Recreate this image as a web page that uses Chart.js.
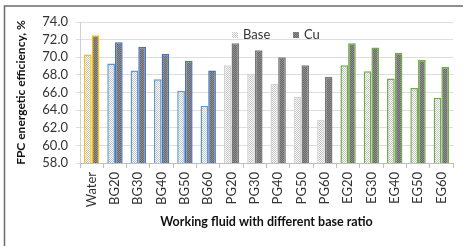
<!DOCTYPE html>
<html>
<head>
<meta charset="utf-8">
<script src="https://cdn.jsdelivr.net/npm/chart.js@4"></script>
<style>
  html, body { margin: 0; padding: 0; background: #fff; }
  #wrap { width: 465px; height: 246px; }
</style>
</head>
<body>
<div id="wrap"><canvas id="fpc-chart" width="465" height="246"></canvas></div>
<script>
const fluids = ["Water", "BG20", "BG30", "BG40", "BG50", "BG60",
  "PG20", "PG30", "PG40", "PG50", "PG60",
  "EG20", "EG30", "EG40", "EG50", "EG60"];
const baseValues = [70.3, 69.3, 68.5, 67.5, 66.2, 64.5,
  69.1, 68.1, 67.0, 65.5, 62.9,
  69.1, 68.4, 67.6, 66.5, 65.4];
const cuValues = [72.5, 71.7, 71.2, 70.4, 69.6, 68.5,
  71.6, 70.8, 70.0, 69.1, 67.8,
  71.6, 71.1, 70.5, 69.7, 68.9];
const yTicks = [58, 60, 62, 64, 66, 68, 70, 72, 74];

// little checker tiles, like Excel's dotted fills
function checker(a, b) {
  const c = document.createElement("canvas");
  c.width = 2; c.height = 2;
  const g = c.getContext("2d");
  g.fillStyle = a; g.fillRect(0, 0, 2, 2);
  g.fillStyle = b; g.fillRect(0, 0, 1, 1); g.fillRect(1, 1, 1, 1);
  return g.createPattern(c, "repeat");
}
const ctx = document.getElementById("fpc-chart").getContext("2d");
const baseFill = checker("#ffffff", "#c4c4c4");
const cuFill = checker("#6a6a6a", "#8e8e8e");

function edge(name, which) {
  if (name === "Water") return "#ffc000";
  if (name.startsWith("BG")) return which === "base" ? "#5b9bd5" : "#4472c4";
  if (name.startsWith("EG")) return "#70ad47";
  return which === "base" ? "#d4d4d4" : "#7a7a7a";
}

const frame = {
  id: "frame",
  beforeDraw(chart) {
    const c = chart.ctx;
    c.save();
    c.fillStyle = "#fff";
    c.fillRect(0, 0, chart.width, chart.height);
    c.strokeStyle = "#6b6b6b";
    c.lineWidth = 1.5;
    c.beginPath();
    c.moveTo(4.5, chart.height);
    c.lineTo(4.5, 6);
    c.lineTo(chart.width - 2, 6);
    c.stroke();
    c.restore();
  }
};

const insideLegend = {
  id: "insideLegend",
  afterDatasetsDraw(chart) {
    const c = chart.ctx;
    const y = chart.chartArea.top + 13;
    c.save();
    c.font = "13px Lato";
    c.textBaseline = "middle";
    let x = 232;
    chart.data.datasets.forEach(ds => {
      c.fillStyle = ds.legendFill;
      c.fillRect(x, y - 3, 6, 6);
      c.fillStyle = "#333";
      c.fillText(ds.label, x + 11, y);
      x += 61;
    });
    c.restore();
  }
};

new Chart(ctx, {
  type: "bar",
  data: {
    labels: fluids,
    datasets: [
      {
        label: "Base",
        data: baseValues,
        backgroundColor: baseFill,
        legendFill: baseFill,
        borderColor: fluids.map(f => edge(f, "base")),
        borderWidth: 1.5,
        categoryPercentage: 0.66,
        barPercentage: 1.0
      },
      {
        label: "Cu",
        data: cuValues,
        backgroundColor: cuFill,
        legendFill: cuFill,
        borderColor: fluids.map(f => edge(f, "cu")),
        borderWidth: 1.5,
        categoryPercentage: 0.66,
        barPercentage: 1.0
      }
    ]
  },
  options: {
    responsive: false,
    animation: false,
    layout: { padding: { left: 0, right: 12, top: 22, bottom: 0 } },
    plugins: {
      legend: { display: false },
      tooltip: { enabled: false }
    },
    scales: {
      x: {
        afterFit(scale) { scale.height = 83; },
        grid: { drawOnChartArea: false, tickLength: 5, color: "#bfbfbf" },
        border: { color: "#bfbfbf" },
        ticks: {
          minRotation: 90, maxRotation: 90, padding: 4, autoSkip: false,
          color: "#333", font: { family: "Lato", size: 13 }
        },
        title: {
          display: true,
          text: "Working fluid with different base ratio",
          color: "#111",
          font: { family: "Lato", size: 12.5, weight: "bold" },
          padding: { top: 0, bottom: 16.5 }
        }
      },
      y: {
        min: 58, max: 74,
        afterFit(scale) { scale.width = 80; },
        afterBuildTicks(scale) { scale.ticks = yTicks.map(v => ({ value: v })); },
        grid: { color: "#dedede", tickLength: 4 },
        border: { color: "#d0d0d0" },
        ticks: {
          padding: 8, autoSkip: false,
          color: "#333",
          font: { family: "Lato", size: 13 },
          callback: v => v.toFixed(1)
        },
        title: {
          display: true,
          text: "FPC energetic efficiency, %",
          color: "#111",
          font: { family: "Lato", size: 12, weight: "bold" },
          padding: { top: 13.8, bottom: 0 }
        }
      }
    }
  },
  plugins: [frame, insideLegend]
});
</script>
</body>
</html>
